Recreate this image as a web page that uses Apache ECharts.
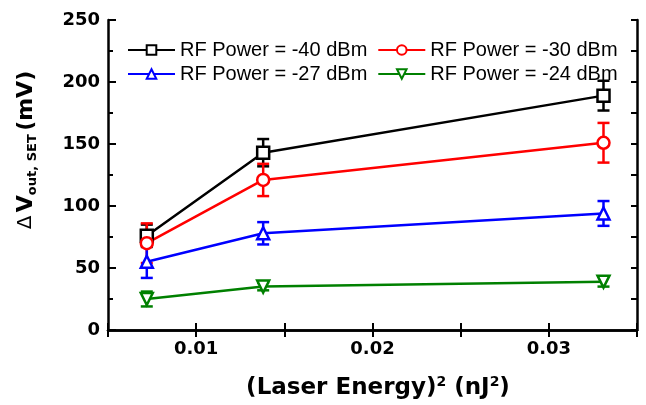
<!DOCTYPE html>
<html>
<head>
<meta charset="utf-8">
<script src="https://cdn.jsdelivr.net/npm/echarts@6/dist/echarts.min.js"></script>
<style>
  html, body { margin: 0; padding: 0; background: #fff; }
  #chart { width: 646px; height: 405px; }
</style>
</head>
<body>
<div id="chart"></div>
<script>
// laser energy squared (nJ^2)
var energySq = [0.0072, 0.0138, 0.0331];

var names = ['RF Power = -40 dBm', 'RF Power = -30 dBm', 'RF Power = -27 dBm', 'RF Power = -24 dBm'];
var colors = ['#000000', '#ff0000', '#0000ff', '#008000'];
var symbols = ['rect', 'circle', 'triangle', 'triangle'];
var rotations = [0, 0, 0, 180];

// delta V out (mV) and error (mV)
var v40 = [76, 143, 189];
var e40 = [9, 11, 12];
var v30 = [70, 121, 151];
var e30 = [16, 13, 16];
var v27 = [55, 78, 94];
var e27 = [13, 9, 10];
var v24 = [25, 35, 39];
var e24 = [6, 3, 4];

var values = [v40, v30, v27, v24];
var errors = [e40, e30, e27, e24];

var chart = echarts.init(document.getElementById('chart'));

var tickFont = { fontFamily: 'DejaVu Sans', fontWeight: 'bold', fontSize: 18, color: '#000' };

var series = [];
values.forEach(function (vals, i) {
  // error bars
  series.push({
    type: 'custom',
    name: names[i] + ' err',
    z: 1,
    silent: true,
    data: vals.map(function (v, k) { return [energySq[k], v - errors[i][k], v + errors[i][k]]; }),
    renderItem: function (params, api) {
      var lo = api.coord([api.value(0), api.value(1)]);
      var hi = api.coord([api.value(0), api.value(2)]);
      var w = 6;
      var st = { stroke: colors[i], lineWidth: 2.5 };
      return {
        type: 'group',
        children: [
          { type: 'line', shape: { x1: lo[0], y1: lo[1], x2: hi[0], y2: hi[1] }, style: st },
          { type: 'line', shape: { x1: lo[0] - w, y1: lo[1], x2: lo[0] + w, y2: lo[1] }, style: st },
          { type: 'line', shape: { x1: hi[0] - w, y1: hi[1], x2: hi[0] + w, y2: hi[1] }, style: st }
        ]
      };
    }
  });
  series.push({
    type: 'line',
    name: names[i],
    z: 3,
    data: vals.map(function (v, k) { return [energySq[k], v]; }),
    symbol: symbols[i],
    symbolSize: 12,
    symbolRotate: rotations[i],
    lineStyle: { color: colors[i], width: 2.5 },
    itemStyle: { color: '#ffffff', borderColor: colors[i], borderWidth: 2.5 }
  });
});

var legendBase = {
  left: 122,
  itemWidth: 47,
  itemHeight: 12,
  itemGap: 10,
  textStyle: { fontFamily: 'Liberation Sans', fontSize: 20, color: '#000' }
};

chart.setOption({
  animation: false,
  backgroundColor: '#fff',
  grid: { left: 108, right: 9, top: 20, bottom: 75 },
  legend: [
    Object.assign({ top: 35, data: [names[0], names[1]] }, legendBase),
    Object.assign({ top: 59, data: [names[2], names[3]] }, legendBase)
  ],
  xAxis: [{
    type: 'value',
    position: 'bottom',
    min: 0.005,
    max: 0.035,
    interval: 0.005,
    axisLine: { lineStyle: { color: '#000', width: 2.5 } },
    axisTick: { inside: true, length: 7, lineStyle: { color: '#000', width: 2 } },
    axisLabel: Object.assign({
      margin: 10,
      formatter: function (v) {
        var n = Math.round(v * 1000);
        if (n % 10 !== 0 || n < 10 || n > 30) return '';
        return v.toFixed(2);
      }
    }, tickFont),
    splitLine: { show: false }
  }, {
    type: 'value',
    position: 'top',
    min: 0.005,
    max: 0.035,
    interval: 0.005,
    axisLine: { lineStyle: { color: '#000', width: 2.5 } },
    axisTick: { inside: true, length: 7, lineStyle: { color: '#000', width: 2 } },
    axisLabel: { show: false },
    splitLine: { show: false }
  }],
  yAxis: [{
    type: 'value',
    position: 'left',
    min: 0,
    max: 250,
    interval: 50,
    axisLine: { show: true, lineStyle: { color: '#000', width: 2.5 } },
    axisTick: { show: true, inside: true, length: 8, lineStyle: { color: '#000', width: 2 } },
    minorTick: { show: true, splitNumber: 2, length: 5, lineStyle: { color: '#000', width: 2 } },
    axisLabel: Object.assign({ margin: 8 }, tickFont),
    splitLine: { show: false }
  }, {
    type: 'value',
    position: 'right',
    min: 0,
    max: 250,
    interval: 25,
    axisLine: { show: true, lineStyle: { color: '#000', width: 2.5 } },
    axisTick: { show: true, inside: true, length: 6, lineStyle: { color: '#000', width: 2 } },
    axisLabel: { show: false },
    splitLine: { show: false }
  }],
  graphic: [{
    type: 'text',
    x: 378,
    y: 388,
    style: {
      text: '{t|(Laser Energy)}{p|2}{t| (nJ}{p|2}{t|)}',
      align: 'center',
      verticalAlign: 'middle',
      rich: {
        t: { fontFamily: 'DejaVu Sans', fontWeight: 'bold', fontSize: 23, lineHeight: 26, fill: '#000' },
        p: { fontFamily: 'DejaVu Sans', fontWeight: 'bold', fontSize: 14, lineHeight: 10, verticalAlign: 'top', fill: '#000' }
      }
    }
  }, {
    type: 'text',
    x: 26,
    y: 150,
    rotation: Math.PI / 2,
    style: {
      text: '{d|\u0394} {v|V}{s|out, SET} {v|(mV)}',
      align: 'center',
      verticalAlign: 'middle',
      rich: {
        d: { fontFamily: 'DejaVu Sans', fontSize: 20, lineHeight: 26, fill: '#000' },
        v: { fontFamily: 'DejaVu Sans', fontWeight: 'bold', fontSize: 22, lineHeight: 26, fill: '#000' },
        s: { fontFamily: 'DejaVu Sans', fontWeight: 'bold', fontSize: 13, lineHeight: 10, verticalAlign: 'bottom', fill: '#000' }
      }
    }
  }],
  series: series
});
</script>
</body>
</html>
